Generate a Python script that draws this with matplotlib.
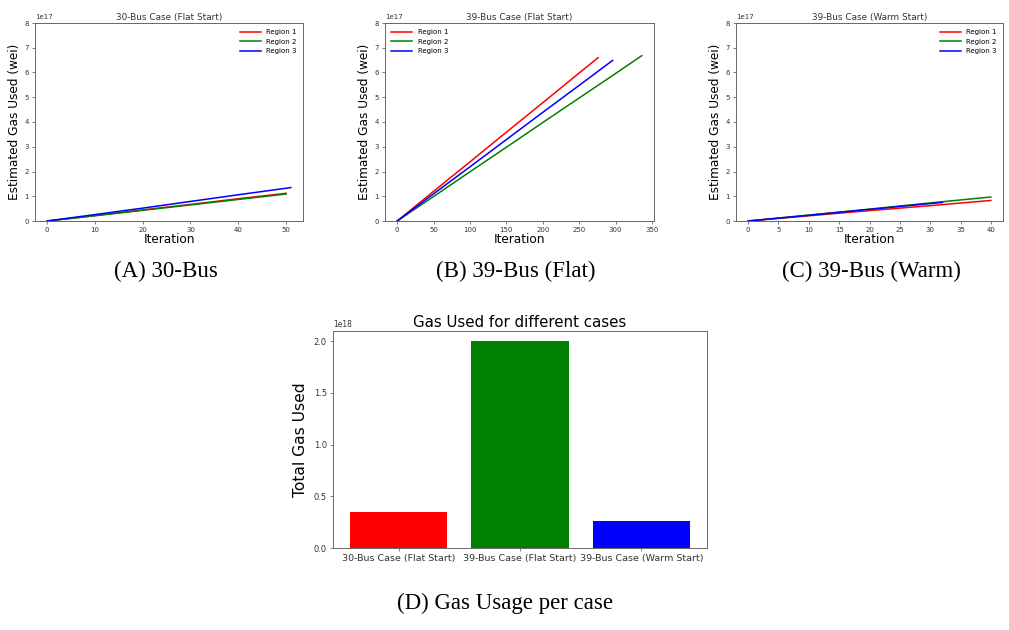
import numpy as np
import matplotlib
matplotlib.use("Agg")
import matplotlib.pyplot as plt
from matplotlib.ticker import MultipleLocator

# Estimated gas used per iteration (values in units of 1e17 wei)
bus30_r1_x = [0, 10, 20, 30, 40, 50]
bus30_r1_y = [0, 0.22, 0.45, 0.67, 0.90, 1.12]
bus30_r2_x = [0, 10, 20, 30, 40, 50]
bus30_r2_y = [0, 0.21, 0.43, 0.65, 0.87, 1.09]
bus30_r3_x = [0, 10, 20, 30, 40, 51]
bus30_r3_y = [0, 0.26, 0.52, 0.79, 1.06, 1.35]

flat39_r1_x = [0, 50, 100, 150, 200, 250, 276]
flat39_r1_y = [0, 1.20, 2.39, 3.59, 4.78, 5.98, 6.60]
flat39_r2_x = [0, 50, 100, 150, 200, 250, 300, 336]
flat39_r2_y = [0, 0.99, 1.99, 2.98, 3.98, 4.97, 5.96, 6.68]
flat39_r3_x = [0, 50, 100, 150, 200, 250, 296]
flat39_r3_y = [0, 1.10, 2.19, 3.29, 4.39, 5.48, 6.49]

warm39_r1_x = [0, 10, 20, 30, 40]
warm39_r1_y = [0, 0.21, 0.42, 0.62, 0.83]
warm39_r2_x = [0, 10, 20, 30, 40]
warm39_r2_y = [0, 0.24, 0.48, 0.73, 0.97]
warm39_r3_x = [0, 10, 20, 32]
warm39_r3_y = [0, 0.23, 0.47, 0.75]

# total gas per case (units of 1e18)
cases = ["30-Bus Case (Flat Start)", "39-Bus Case (Flat Start)", "39-Bus Case (Warm Start)"]
totals = [0.353, 2.0, 0.263]

regions = ["Region 1", "Region 2", "Region 3"]
colors = ["red", "green", "blue"]

W, H = 1009, 630
fig = plt.figure(figsize=(W / 100, H / 100), dpi=100)


def px_axes(left, top, right, bottom):
    return fig.add_axes([left / W, 1 - bottom / H, (right - left) / W, (bottom - top) / H])


def style(ax):
    for s in ax.spines.values():
        s.set_color("#666666")
        s.set_linewidth(0.7)
    ax.tick_params(labelsize=5, length=2.5, width=0.6, color="#666666", labelcolor="#333333", pad=2)


panels = [
    ("30-Bus Case (Flat Start)", (35, 23, 303, 221), "upper right",
     [(bus30_r1_x, bus30_r1_y), (bus30_r2_x, bus30_r2_y), (bus30_r3_x, bus30_r3_y)], None),
    ("39-Bus Case (Flat Start)", (385, 23, 654, 221), "upper left",
     [(flat39_r1_x, flat39_r1_y), (flat39_r2_x, flat39_r2_y), (flat39_r3_x, flat39_r3_y)], None),
    ("39-Bus Case (Warm Start)", (736, 23, 1003, 221), "upper right",
     [(warm39_r1_x, warm39_r1_y), (warm39_r2_x, warm39_r2_y), (warm39_r3_x, warm39_r3_y)], 5),
]

for title, box, loc, series, step in panels:
    ax = px_axes(*box)
    for (x, y), lab, c in zip(series, regions, colors):
        ax.plot(x, np.array(y) * 1e17, color=c, lw=1.1, label=lab)
    ax.set_ylim(0, 8e17)
    if step:
        ax.set_xticks(np.arange(0, 41, step))
    ax.set_title(title, fontsize=6.4, pad=2, color="#333333")
    ax.set_xlabel("Iteration", fontsize=8.7, labelpad=0)
    ax.set_ylabel("Estimated Gas Used (wei)", fontsize=8.7, labelpad=2)
    ax.yaxis.get_offset_text().set_fontsize(5)
    ax.legend(loc=loc, fontsize=5, frameon=False, handlelength=3)
    style(ax)

captions = [("(A) 30-Bus", 166, 271), ("(B) 39-Bus (Flat)", 516, 271), ("(C) 39-Bus (Warm)", 871, 271)]
for txt, cx, cy in captions:
    fig.text(cx / W, 1 - cy / H, txt, ha="center", va="center", fontsize=16.5, family="Liberation Serif")

axd = px_axes(333, 331, 707, 548)
axd.bar(range(len(cases)), np.array(totals) * 1e18, color=colors, width=0.8)
axd.set_xticks(range(len(cases)))
axd.set_xticklabels(cases)
axd.yaxis.set_major_locator(MultipleLocator(0.5e18))
axd.set_title("Gas Used for different cases", fontsize=10.8, pad=3)
axd.set_ylabel("Total Gas Used", fontsize=11.2)
style(axd)
axd.tick_params(axis="y", labelsize=6)
axd.tick_params(axis="x", labelsize=6.8)
axd.yaxis.get_offset_text().set_fontsize(5.5)

fig.text(505 / W, 1 - 603 / H, "(D) Gas Usage per case", ha="center", va="center",
         fontsize=16.5, family="Liberation Serif")

fig.savefig("out.png", dpi=100)
